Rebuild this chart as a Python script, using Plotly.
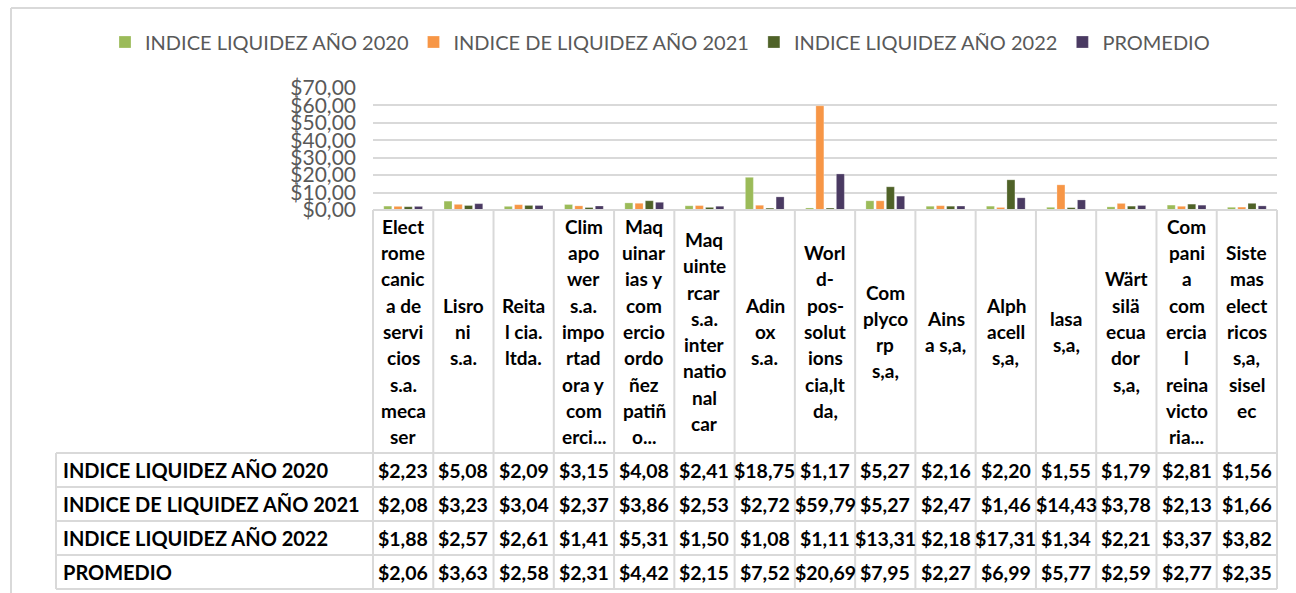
import plotly.graph_objects as go

# ---------------- data ----------------
series_names = ["INDICE LIQUIDEZ AÑO 2020", "INDICE DE LIQUIDEZ AÑO 2021",
                "INDICE LIQUIDEZ AÑO 2022", "PROMEDIO"]
category_lines = [
    ["Elect", "rome", "canic", "a de", "servi", "cios", "s.a.", "meca", "ser"],
    ["Lisro", "ni", "s.a."],
    ["Reita", "l cia.", "ltda."],
    ["Clim", "apo", "wer", "s.a.", "impo", "rtad", "ora y", "com", "erci..."],
    ["Maq", "uinar", "ias y", "com", "ercio", "ordo", "ñez", "patiñ", "o..."],
    ["Maq", "uinte", "rcar", "s.a.", "inter", "natio", "nal", "car"],
    ["Adin", "ox", "s.a."],
    ["Worl", "d-", "pos-", "solut", "ions", "cia,lt", "da,"],
    ["Com", "plyco", "rp", "s,a,"],
    ["Ains", "a s,a,"],
    ["Alph", "acell", "s,a,"],
    ["lasa", "s,a,"],
    ["Wärt", "silä", "ecua", "dor", "s,a,"],
    ["Com", "pani", "a", "com", "ercia", "l", "reina", "victo", "ria..."],
    ["Siste", "mas", "elect", "ricos", "s,a,", "sisel", "ec"],
]
categories = [" ".join(l) for l in category_lines]
liq_2020 = [2.23, 5.08, 2.09, 3.15, 4.08, 2.41, 18.75, 1.17, 5.27, 2.16, 2.20, 1.55, 1.79, 2.81, 1.56]
liq_2021 = [2.08, 3.23, 3.04, 2.37, 3.86, 2.53, 2.72, 59.79, 5.27, 2.47, 1.46, 14.43, 3.78, 2.13, 1.66]
liq_2022 = [1.88, 2.57, 2.61, 1.41, 5.31, 1.50, 1.08, 1.11, 13.31, 2.18, 17.31, 1.34, 2.21, 3.37, 3.82]
promedio = [2.06, 3.63, 2.58, 2.31, 4.42, 2.15, 7.52, 20.69, 7.95, 2.27, 6.99, 5.77, 2.59, 2.77, 2.35]
y_ticks = [0, 10, 20, 30, 40, 50, 60, 70]

series_values = [liq_2020, liq_2021, liq_2022, promedio]
colors = ["#9BBB59", "#F79646", "#4F6228", "#4A3A62"]

# ---------------- layout geometry (pixels) ----------------
W, H = 1296, 593
def px(x):
    return x / W
def py(y):
    return 1 - y / H

PLOT_L, PLOT_R = 373, 1277
Y0, Y70 = 210, 88
TABLE_L = 56
HEAD_BOTTOM = 453
ROW_Y = [453, 487, 521, 555, 589]

def money(v):
    return "$" + f"{v:.2f}".replace(".", ",")

FONT = "Lato, 'Open Sans', sans-serif"
GRAY = "#595959"
LINE = "#D9D9D9"

fig = go.Figure()
for name, vals, col in zip(series_names, series_values, colors):
    fig.add_trace(go.Bar(
        name=name, x=categories, y=vals,
        marker=dict(color=col, line=dict(color="rgba(255,255,255,0.5)", width=0.5)),
        hovertemplate="%{x}<br>" + name + ": %{y:$.2f}<extra></extra>",
    ))

shapes = []
annotations = []

# outer chart border (left + top)
shapes.append(dict(type="line", xref="paper", yref="paper", x0=px(11), x1=px(11),
                   y0=py(8), y1=py(H), line=dict(color=LINE, width=2)))
shapes.append(dict(type="line", xref="paper", yref="paper", x0=px(11), x1=px(W),
                   y0=py(8), y1=py(8), line=dict(color=LINE, width=2)))

n = len(categories)
colw = (PLOT_R - PLOT_L) / n

# category header vertical lines
for i in range(n + 1):
    x = PLOT_L + i * colw
    shapes.append(dict(type="line", xref="paper", yref="paper", x0=px(x), x1=px(x),
                       y0=py(Y0), y1=py(ROW_Y[-1]), line=dict(color=LINE, width=2)))
# table row header vertical line
shapes.append(dict(type="line", xref="paper", yref="paper", x0=px(TABLE_L), x1=px(TABLE_L),
                   y0=py(ROW_Y[0]), y1=py(ROW_Y[-1]), line=dict(color=LINE, width=2)))
# horizontal table lines
shapes.append(dict(type="line", xref="paper", yref="paper", x0=px(PLOT_L), x1=px(PLOT_R),
                   y0=py(Y0), y1=py(Y0), line=dict(color=LINE, width=2)))
for y in ROW_Y:
    shapes.append(dict(type="line", xref="paper", yref="paper", x0=px(TABLE_L), x1=px(PLOT_R),
                       y0=py(y), y1=py(y), line=dict(color=LINE, width=2)))

# category header labels (one annotation per wrapped line)
LINE_PITCH = 26.3
head_center = (Y0 + HEAD_BOTTOM) / 2
for i, lines in enumerate(category_lines):
    cx = PLOT_L + (i + 0.5) * colw
    k = len(lines)
    for j, t in enumerate(lines):
        yy = head_center + (j - (k - 1) / 2) * LINE_PITCH
        annotations.append(dict(xref="paper", yref="paper", x=px(cx), y=py(yy),
                                text="<b>" + t + "</b>", showarrow=False,
                                xanchor="center", yanchor="middle",
                                font=dict(family=FONT, size=19, color="#000000")))

# table rows
for r, (name, vals) in enumerate(zip(series_names, series_values)):
    yc = (ROW_Y[r] + ROW_Y[r + 1]) / 2
    annotations.append(dict(xref="paper", yref="paper", x=px(TABLE_L + 5), y=py(yc),
                            text="<b>" + name + "</b>", showarrow=False,
                            xanchor="left", yanchor="middle",
                            font=dict(family=FONT, size=20, color="#000000")))
    for i, v in enumerate(vals):
        cx = PLOT_L + (i + 0.5) * colw
        annotations.append(dict(xref="paper", yref="paper", x=px(cx), y=py(yc),
                                text="<b>" + money(v) + "</b>", showarrow=False,
                                xanchor="center", yanchor="middle",
                                font=dict(family=FONT, size=19.5, color="#000000")))

fig.update_layout(
    width=W, height=H, autosize=False,
    margin=dict(l=0, r=0, t=0, b=0, pad=0, autoexpand=False),
    paper_bgcolor="white", plot_bgcolor="white",
    barmode="group", bargap=0.32, bargroupgap=0.22,
    showlegend=True,
    legend=dict(orientation="h", x=px(660), y=py(42), xanchor="center", yanchor="middle",
                font=dict(family=FONT, size=20, color=GRAY), itemwidth=30,
                traceorder="normal", bgcolor="rgba(0,0,0,0)"),
    xaxis=dict(domain=[px(PLOT_L), px(PLOT_R)], showticklabels=False, showgrid=False,
               zeroline=False, showline=False, ticks="", automargin=False),
    yaxis=dict(domain=[py(Y0), py(Y70)], range=[0, 70], tickvals=y_ticks,
               ticktext=[money(v) for v in y_ticks], showgrid=True, gridcolor=LINE,
               gridwidth=2, zeroline=False, showline=False, ticks="", automargin=False,
               tickfont=dict(family=FONT, size=21, color=GRAY), ticklabelstandoff=16),
    shapes=shapes, annotations=annotations,
)

fig.write_html("out.html", config={"displayModeBar": False},
               post_script="document.body.style.margin='0px';document.body.style.overflow='hidden';")
